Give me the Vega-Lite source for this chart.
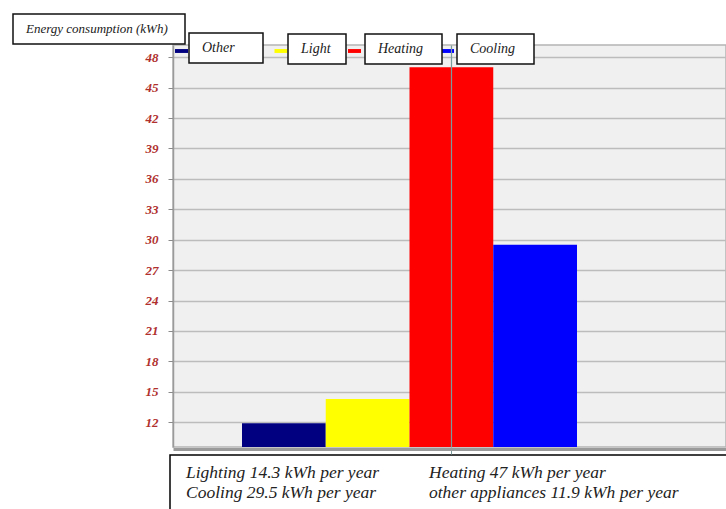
{
  "$schema": "https://vega.github.io/schema/vega-lite/v6.json",
  "width": 553,
  "height": 402,
  "autosize": {"type": "none"},
  "padding": {"left": 173, "top": 45, "right": 0, "bottom": 62},
  "background": "white",
  "datasets": {
    "energy": [
      {"category": "Other", "value": 11.9},
      {"category": "Light", "value": 14.3},
      {"category": "Heating", "value": 47},
      {"category": "Cooling", "value": 29.5}
    ]
  },
  "data": {"name": "energy"},
  "encoding": {
    "x": {
      "field": "category",
      "type": "nominal",
      "scale": {"domain": ["Other", "Light", "Heating", "Cooling", " "], "paddingInner": 0, "paddingOuter": 0.8015, "align": 0.514},
      "axis": {
        "values": ["Heating"],
        "grid": true,
        "gridColor": "#7b9c9c",
        "gridWidth": 1.2,
        "labels": false,
        "ticks": true,
        "tickSize": 5,
        "tickColor": "#7b9c9c",
        "domain": true,
        "domainColor": "#9a9a9a",
        "domainWidth": 3,
        "offset": 2,
        "title": null,
        "zindex": 1
      }
    },
    "y": {
      "field": "value",
      "type": "quantitative",
      "scale": {"domain": [9.56, 49.2], "zero": false, "nice": false},
      "axis": {
        "values": [12, 15, 18, 21, 24, 27, 30, 33, 36, 39, 42, 45, 48],
        "grid": true,
        "gridColor": "#bcbcbc",
        "gridWidth": 1.5,
        "tickColor": "#8a8a8a",
        "tickSize": 5,
        "domainColor": "#9a9a9a",
        "domainWidth": 1.5,
        "labelFont": "Liberation Serif",
        "labelFontStyle": "italic",
        "labelFontWeight": "bold",
        "labelFontSize": 13,
        "labelColor": "#b0302e",
        "labelPadding": 10,
        "title": null,
        "zindex": 0
      }
    }
  },
  "layer": [
    {
      "transform": [{"filter": "datum.category === 'Other'"}],
      "mark": {"type": "bar", "clip": true},
      "encoding": {
        "color": {
          "field": "category", "type": "nominal",
          "scale": {"range": ["#000080"]},
          "legend": {"orient": "none", "legendX": 2, "legendY": -0.5, "title": null,
            "strokeColor": "transparent", "fillColor": "transparent", "padding": 0,
            "symbolType": "M-1,-0.3H1V0.3H-1Z", "symbolSize": 169, "symbolOpacity": 1, "symbolStrokeWidth": 0,
            "labelFontSize": 1, "labelExpr": "''"}
        }
      }
    },
    {
      "transform": [{"filter": "datum.category === 'Light'"}],
      "mark": {"type": "bar", "clip": true},
      "encoding": {
        "color": {
          "field": "category", "type": "nominal",
          "scale": {"range": ["#ffff00"]},
          "legend": {"orient": "none", "legendX": 101.5, "legendY": -0.5, "title": null,
            "strokeColor": "transparent", "fillColor": "transparent", "padding": 0,
            "symbolType": "M-1,-0.3H1V0.3H-1Z", "symbolSize": 169, "symbolOpacity": 1, "symbolStrokeWidth": 0,
            "labelFontSize": 1, "labelExpr": "''"}
        }
      }
    },
    {
      "transform": [{"filter": "datum.category === 'Heating'"}],
      "mark": {"type": "bar", "clip": true},
      "encoding": {
        "color": {
          "field": "category", "type": "nominal",
          "scale": {"range": ["#ff0000"]},
          "legend": {"orient": "none", "legendX": 175, "legendY": -0.5, "title": null,
            "strokeColor": "transparent", "fillColor": "transparent", "padding": 0,
            "symbolType": "M-1,-0.3H1V0.3H-1Z", "symbolSize": 169, "symbolOpacity": 1, "symbolStrokeWidth": 0,
            "labelFontSize": 1, "labelExpr": "''"}
        }
      }
    },
    {
      "transform": [{"filter": "datum.category === 'Cooling'"}],
      "mark": {"type": "bar", "clip": true},
      "encoding": {
        "color": {
          "field": "category", "type": "nominal",
          "scale": {"range": ["#0000ff"]},
          "legend": {"orient": "none", "legendX": 268, "legendY": -0.5, "title": null,
            "strokeColor": "transparent", "fillColor": "transparent", "padding": 0,
            "symbolType": "M-1,-0.3H1V0.3H-1Z", "symbolSize": 169, "symbolOpacity": 1, "symbolStrokeWidth": 0,
            "labelFontSize": 1, "labelExpr": "''"}
        }
      }
    },
    {
      "transform": [{"filter": "datum.category === 'Other'"}],
      "mark": {"type": "point", "opacity": 0, "size": 0},
      "encoding": {
        "shape": {
          "field": "category", "type": "nominal",
          "legend": {"orient": "none", "legendX": 16, "legendY": -12, "title": null,
            "symbolOffset": 50, "labelOffset": -59}
        }
      }
    },
    {
      "transform": [{"filter": "datum.category === 'Light'"}],
      "mark": {"type": "point", "opacity": 0, "size": 0},
      "encoding": {
        "shape": {
          "field": "category", "type": "nominal",
          "legend": {"orient": "none", "legendX": 115, "legendY": -11, "title": null,
            "symbolOffset": 34, "labelOffset": -43}
        }
      }
    },
    {
      "transform": [{"filter": "datum.category === 'Heating'"}],
      "mark": {"type": "point", "opacity": 0, "size": 0},
      "encoding": {
        "shape": {
          "field": "category", "type": "nominal",
          "legend": {"orient": "none", "legendX": 192, "legendY": -11, "title": null,
            "symbolOffset": 53, "labelOffset": -62}
        }
      }
    },
    {
      "transform": [{"filter": "datum.category === 'Cooling'"}],
      "mark": {"type": "point", "opacity": 0, "size": 0},
      "encoding": {
        "shape": {
          "field": "category", "type": "nominal",
          "legend": {"orient": "none", "legendX": 284, "legendY": -11, "title": null,
            "symbolOffset": 53, "labelOffset": -62}
        }
      }
    },
    {
      "transform": [{"filter": "datum.category === 'Light' || datum.category === 'Cooling'"}],
      "mark": {"type": "point", "opacity": 0, "size": 0},
      "encoding": {
        "shape": {
          "field": "category", "type": "nominal",
          "scale": {"domain": ["Light", "Cooling"]},
          "legend": {
            "orient": "none", "legendX": -3, "legendY": 410, "title": null,
            "direction": "vertical", "rowPadding": 1,
            "symbolOffset": 542.25, "labelOffset": -552.75,
            "padding": 9, "labelFontSize": 17.5, "labelColor": "#222222", "labelLimit": 500,
            "strokeColor": "#000000", "fillColor": "transparent",
            "labelExpr": "datum.label === 'Light' ? 'Lighting 14.3 kWh per year' : 'Cooling 29.5 kWh per year'"
          }
        }
      }
    },
    {
      "transform": [{"filter": "datum.category === 'Heating' || datum.category === 'Other'"}],
      "mark": {"type": "point", "opacity": 0, "size": 0},
      "encoding": {
        "shape": {
          "field": "category", "type": "nominal",
          "scale": {"domain": ["Heating", "Other"]},
          "legend": {
            "orient": "none", "legendX": 240, "legendY": 410, "title": null,
            "direction": "vertical", "rowPadding": 1,
            "symbolOffset": 0, "labelOffset": -10.5,
            "padding": 9, "labelFontSize": 17.5, "labelColor": "#222222", "labelLimit": 500,
            "strokeColor": "transparent", "fillColor": "transparent",
            "labelExpr": "datum.label === 'Heating' ? 'Heating 47 kWh per year' : 'other appliances 11.9 kWh per year'"
          }
        }
      }
    },
    {
      "transform": [{"filter": "datum.category === 'Other'"}],
      "mark": {"type": "point", "opacity": 0, "size": 0},
      "encoding": {
        "shape": {
          "field": "category", "type": "nominal",
          "legend": {
            "orient": "none", "legendX": -160, "legendY": -31, "title": null,
            "symbolOffset": 148.5, "labelOffset": -156.5,
            "padding": 8, "labelFontSize": 13, "labelLimit": 400,
            "labelExpr": "'Energy consumption (kWh)'"
          }
        }
      }
    }
  ],
  "resolve": {
    "scale": {"color": "independent", "shape": "independent"},
    "legend": {"color": "independent", "shape": "independent"}
  },
  "config": {
    "view": {"fill": "#eff0ef", "stroke": "#b4b4b4", "strokeWidth": 1.5},
    "legend": {
      "strokeColor": "#111111",
      "fillColor": "#ffffff",
      "strokeWidth": 1.5,
      "padding": 8,
      "labelFont": "Liberation Serif",
      "labelFontStyle": "italic",
      "labelFontSize": 14,
      "labelColor": "#1a1a1a",
      "symbolSize": 1,
      "symbolStrokeWidth": 0,
      "symbolOpacity": 0
    }
  }
}
